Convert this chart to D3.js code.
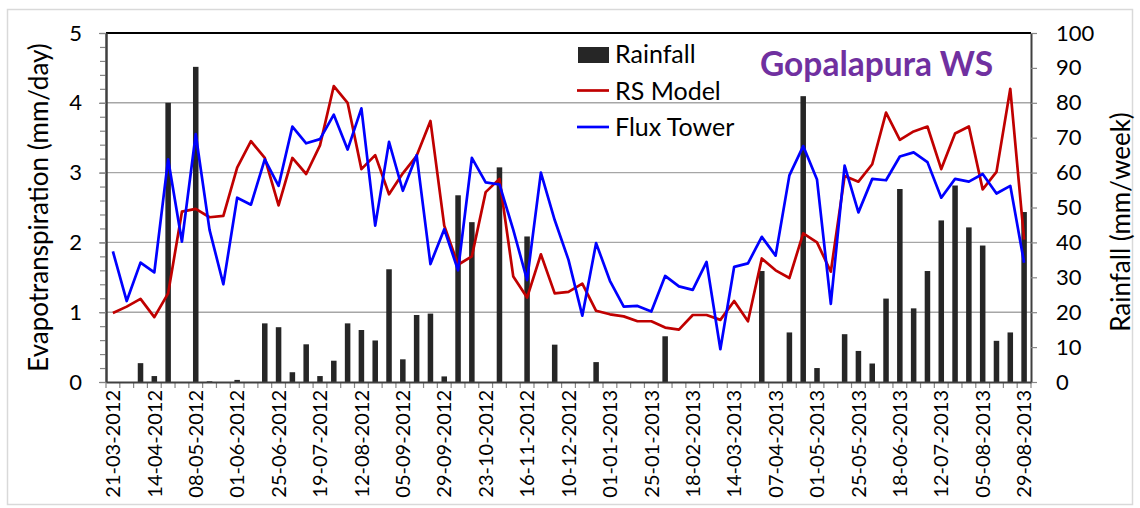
<!DOCTYPE html>
<html>
<head>
<meta charset="utf-8">
<script src="https://cdn.jsdelivr.net/npm/d3@7"></script>
<style>
body { margin: 0; background: #fff; }
text { font-family: Lato, "Open Sans", sans-serif; fill: #000; }
</style>
</head>
<body>
<svg id="et_graph" width="1140" height="508"></svg>
<script>

// 8-day composite dates
let dates = [
    "21-03-2012","29-03-2012","06-04-2012","14-04-2012","22-04-2012","30-04-2012",
    "08-05-2012","16-05-2012","24-05-2012","01-06-2012","09-06-2012","17-06-2012",
    "25-06-2012","03-07-2012","11-07-2012","19-07-2012","27-07-2012","04-08-2012",
    "12-08-2012","20-08-2012","28-08-2012","05-09-2012","13-09-2012","21-09-2012",
    "29-09-2012","07-10-2012","15-10-2012","23-10-2012","31-10-2012","08-11-2012",
    "16-11-2012","24-11-2012","02-12-2012","10-12-2012","18-12-2012","26-12-2012",
    "01-01-2013","09-01-2013","17-01-2013","25-01-2013","02-02-2013","10-02-2013",
    "18-02-2013","26-02-2013","06-03-2013","14-03-2013","22-03-2013","30-03-2013",
    "07-04-2013","15-04-2013","23-04-2013","01-05-2013","09-05-2013","17-05-2013",
    "25-05-2013","02-06-2013","10-06-2013","18-06-2013","26-06-2013","04-07-2013",
    "12-07-2013","20-07-2013","28-07-2013","05-08-2013","13-08-2013","21-08-2013",
    "29-08-2013"
];

let rs_model = [
    0.99,1.08,1.19,0.93,1.27,2.44,2.48,2.36,2.38,3.07,3.45,3.21,
    2.53,3.21,2.98,3.39,4.24,4.00,3.05,3.25,2.69,2.99,3.24,3.74,
    2.24,1.68,1.80,2.72,2.91,1.51,1.21,1.83,1.27,1.29,1.41,1.02,
    0.97,0.94,0.87,0.87,0.78,0.75,0.96,0.96,0.89,1.16,0.87,1.77,
    1.60,1.49,2.13,2.00,1.58,2.95,2.87,3.12,3.86,3.47,3.59,3.66,
    3.05,3.56,3.66,2.76,3.01,4.20,2.04
];

let flux_tower = [
    1.87,1.16,1.71,1.57,3.19,2.01,3.55,2.18,1.40,2.64,2.54,3.19,
    2.81,3.66,3.42,3.48,3.83,3.33,3.92,2.24,3.44,2.74,3.25,1.69,
    2.19,1.60,3.21,2.86,2.83,2.18,1.46,3.00,2.32,1.75,0.95,1.99,
    1.45,1.08,1.09,1.01,1.52,1.37,1.32,1.72,0.47,1.65,1.70,2.08,
    1.81,2.96,3.38,2.90,1.12,3.10,2.43,2.91,2.89,3.23,3.29,3.15,
    2.64,2.91,2.87,2.98,2.70,2.81,1.71
];

let rainfall = [
    0,0,5.4,1.7,80,0,90.3,0.2,0,0.6,0,16.8,
    15.7,2.8,10.8,1.7,6.1,16.8,14.9,11.9,32.3,6.5,19.2,19.6,
    1.6,53.5,45.8,0,61.5,0,41.7,0,10.7,0,0,5.7,
    0,0,0,0,13.1,0,0,0,0,0,0,31.8,
    0,14.2,81.9,4.0,0,13.7,8.9,5.3,23.9,55.3,21.1,31.8,
    46.3,56.3,44.3,39.1,11.8,14.2,48.7
];

let et_ticks = [0,1,2,3,4,5];
let et_minor = [0,0.2,0.4,0.6,0.8,1,1.2,1.4,1.6,1.8,2,2.2,2.4,2.6,2.8,3,3.2,3.4,3.6,3.8,4,4.2,4.4,4.6,4.8,5];
let rain_ticks = [0,10,20,30,40,50,60,70,80,90,100];

let svgGraph = d3.select("#et_graph"),
    margin = {top: 33, right: 109, bottom: 126, left: 106},
    width = +svgGraph.attr("width") - margin.left - margin.right,
    height = +svgGraph.attr("height") - margin.top - margin.bottom;

// outer chart frame
svgGraph.append("rect")
    .attr("x", 7.5).attr("y", 9.5)
    .attr("width", 1125).attr("height", 495)
    .style("fill", "#fff")
    .style("stroke", "#d9d9d9")
    .style("stroke-width", 1.5);

let x = d3.scaleBand().domain(dates).range([0, width]);
let y = d3.scaleLinear().domain([0, 5]).range([height, 0]);
let y2 = d3.scaleLinear().domain([0, 100]).range([height, 0]);
let bw = x.bandwidth();

let g = svgGraph.append("g")
    .attr("transform", "translate(" + margin.left + "," + margin.top + ")");

// gridlines
g.selectAll(".grid")
    .data(et_ticks.slice(1, 5))
    .enter().append("line")
    .attr("class", "grid")
    .attr("x1", 0).attr("x2", width)
    .attr("y1", d => y(d)).attr("y2", d => y(d))
    .style("stroke", "#a6a6a6")
    .style("stroke-width", 1.4);

// rainfall bars on the right axis
g.selectAll(".bar")
    .data(rainfall)
    .enter().append("rect")
    .attr("class", "bar")
    .attr("x", (d, i) => x(dates[i]) + bw * 0.3)
    .attr("width", bw * 0.4)
    .attr("y", d => y2(d))
    .attr("height", d => height - y2(d))
    .style("fill", "#262626");

let line = d3.line()
    .x((d, i) => x(dates[i]) + bw / 2)
    .y(d => y(d));

g.append("path")
    .datum(rs_model)
    .attr("d", line)
    .style("fill", "none")
    .style("stroke", "#c00000")
    .style("stroke-width", 2.7)
    .style("stroke-linejoin", "round");

g.append("path")
    .datum(flux_tower)
    .attr("d", line)
    .style("fill", "none")
    .style("stroke", "#0000ff")
    .style("stroke-width", 2.7)
    .style("stroke-linejoin", "round");

// plot frame top
g.append("line")
    .attr("x1", 0).attr("x2", width)
    .attr("y1", 0).attr("y2", 0)
    .style("stroke", "#000")
    .style("stroke-width", 2);

// left axis, minor then major
g.append("g")
    .attr("class", "axis")
    .call(d3.axisLeft(y).tickValues(et_minor).tickSize(6).tickSizeOuter(0).tickFormat(""));

g.append("g")
    .attr("class", "axis axis--y")
    .call(d3.axisLeft(y).tickValues(et_ticks).tickSize(7).tickSizeOuter(0).tickPadding(17).tickFormat(d3.format("d")));

// right axis
g.append("g")
    .attr("class", "axis axis--y2")
    .attr("transform", "translate(" + width + ",0)")
    .call(d3.axisRight(y2).tickValues(rain_ticks).tickSize(6).tickSizeOuter(0).tickPadding(19));

// x axis: ticks at band edges, labels every third date
let edges = d3.range(dates.length + 1);
g.selectAll(".xtick")
    .data(edges)
    .enter().append("line")
    .attr("class", "xtick")
    .attr("x1", d => d * bw).attr("x2", d => d * bw)
    .attr("y1", height).attr("y2", height + 6)
    .style("stroke", "#868686")
    .style("stroke-width", 1.2);

let xAxisGenerator = d3.axisBottom(x)
    .tickValues(dates.filter((d, i) => i % 3 == 0))
    .tickSize(0)
    .tickSizeOuter(0);

let xg = g.append("g")
    .attr("class", "axis axis--x")
    .attr("transform", "translate(0," + height + ")")
    .call(xAxisGenerator);

xg.selectAll("text")
    .attr("transform", "rotate(-90)")
    .attr("x", -8)
    .attr("y", 0)
    .attr("dy", "0.36em")
    .style("text-anchor", "end")
    .style("font-size", "20px");

svgGraph.selectAll(".axis path.domain")
    .style("stroke", "#404040")
    .style("stroke-width", 2);
svgGraph.selectAll(".axis .tick line")
    .style("stroke", "#868686")
    .style("stroke-width", 1.2);
svgGraph.selectAll(".axis--y text, .axis--y2 text")
    .style("font-size", "22px")
    .style("font-family", "Lato, sans-serif")
    .style("fill", "#000");
xg.selectAll("text")
    .style("font-family", "Lato, sans-serif")
    .style("fill", "#000");

// axis titles
svgGraph.append("text")
    .attr("transform", "translate(48," + (margin.top + height / 2) + ") rotate(-90)")
    .style("text-anchor", "middle")
    .style("font-size", "26px")
    .text("Evapotranspiration (mm/day)");

svgGraph.append("text")
    .attr("transform", "translate(1130,222) rotate(-90)")
    .style("text-anchor", "middle")
    .style("font-size", "26px")
    .text("Rainfall (mm/week)");

// legend
let legend = svgGraph.append("g").attr("class", "legend");
legend.append("rect")
    .attr("x", 578).attr("y", 47)
    .attr("width", 31).attr("height", 16)
    .style("fill", "#262626");
legend.append("line")
    .attr("x1", 577).attr("x2", 609)
    .attr("y1", 90.5).attr("y2", 90.5)
    .style("stroke", "#c00000").style("stroke-width", 2.7);
legend.append("line")
    .attr("x1", 577).attr("x2", 609)
    .attr("y1", 127).attr("y2", 127)
    .style("stroke", "#0000ff").style("stroke-width", 2.7);

let legend_labels = ["Rainfall", "RS Model", "Flux Tower"];
legend.selectAll("text")
    .data(legend_labels)
    .enter().append("text")
    .attr("x", 615)
    .attr("y", (d, i) => 63 + i * 36.7)
    .style("font-size", "25px")
    .text(d => d);

// site name
svgGraph.append("text")
    .attr("x", 760).attr("y", 76)
    .style("font-size", "33.5px")
    .style("font-weight", "bold")
    .style("fill", "#7030a0")
    .text("Gopalapura WS");

</script>
</body>
</html>
